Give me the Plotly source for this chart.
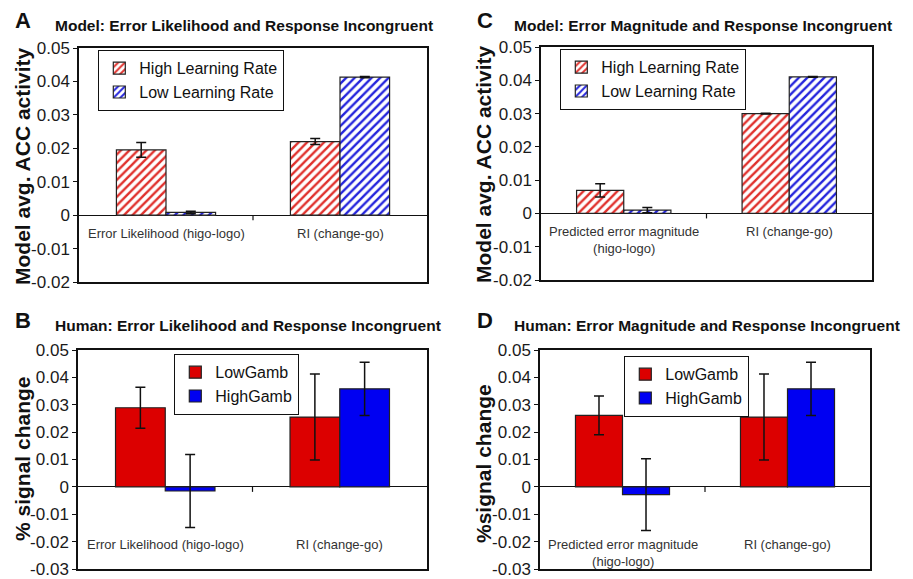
import plotly.graph_objects as go

# ---------------- data ----------------
cats_model_A = ["Error Likelihood (higo-logo)", "RI (change-go)"]
cats_model_C = ["Predicted error magnitude<br>(higo-logo)", "RI (change-go)"]
cats_human_B = ["Error Likelihood (higo-logo)", "RI (change-go)"]
cats_human_D = ["Predicted error magnitude<br>(higo-logo)", "RI (change-go)"]

model_names = ["High Learning Rate", "Low Learning Rate"]
human_names = ["LowGamb", "HighGamb"]

A_high = [0.0195, 0.0220]
A_high_err = [0.0022, 0.0009]
A_low = [0.0008, 0.0413]
A_low_err = [0.0004, 0.0002]

C_high = [0.0069, 0.0300]
C_high_err = [0.0020, 0.0001]
C_low = [0.0010, 0.0410]
C_low_err = [0.0008, 0.0001]

B_lowg = [0.0289, 0.0255]
B_lowg_err = [0.0075, 0.0157]
B_highg = [-0.0015, 0.0358]
B_highg_err = [0.0133, 0.0097]

D_lowg = [0.0261, 0.0255]
D_lowg_err = [0.0071, 0.0157]
D_highg = [-0.0028, 0.0358]
D_highg_err = [0.0131, 0.0097]

model_tickvals = [-0.02, -0.01, 0, 0.01, 0.02, 0.03, 0.04, 0.05]
model_ticktext = ["-0.02", "-0.01", "0", "0.01", "0.02", "0.03", "0.04", "0.05"]
human_tickvals = [-0.03, -0.02, -0.01, 0, 0.01, 0.02, 0.03, 0.04, 0.05]
human_ticktext = ["-0.03", "-0.02", "-0.01", "0", "0.01", "0.02", "0.03", "0.04", "0.05"]

titles = {
    "A": "Model: Error Likelihood and Response Incongruent",
    "C": "Model: Error Magnitude and Response Incongruent",
    "B": "Human: Error Likelihood and Response Incongruent",
    "D": "Human: Error Magnitude and Response Incongruent",
}
ytitles = {
    "A": "Model avg. ACC activity",
    "C": "Model avg. ACC activity",
    "B": "% signal change",
    "D": "%signal change",
}

# ---------------- styling ----------------
W, H = 913, 579
FONT = "Liberation Sans, Arial, Helvetica, sans-serif"
RED_H = "#e0302c"
BLUE_H = "#2424dc"
RED_S = "#dc0000"
BLUE_S = "#0000f2"


def px_x(p):
    return p / W


def px_y(p):
    return 1 - p / H


fig = go.Figure()

panels = [
    # key, axis suffix, cats, series, legend, xdom(px), ydom(px), hatched
    ("A", "", cats_model_A,
     [(model_names[0], A_high, A_high_err, RED_H), (model_names[1], A_low, A_low_err, BLUE_H)],
     "legend", (79, 427), (48, 282), True),
    ("C", "2", cats_model_C,
     [(model_names[0], C_high, C_high_err, RED_H), (model_names[1], C_low, C_low_err, BLUE_H)],
     "legend2", (541, 872), (47, 280), True),
    ("B", "3", cats_human_B,
     [(human_names[0], B_lowg, B_lowg_err, RED_S), (human_names[1], B_highg, B_highg_err, BLUE_S)],
     "legend3", (78, 427), (350, 569), False),
    ("D", "4", cats_human_D,
     [(human_names[0], D_lowg, D_lowg_err, RED_S), (human_names[1], D_highg, D_highg_err, BLUE_S)],
     "legend4", (540, 870), (350, 569), False),
]

# left, top (px), font size
legend_pos = {
    "legend": (98, 50, 16),
    "legend2": (560, 49, 16),
    "legend3": (174, 354, 16),
    "legend4": (624, 356, 16),
}

annotations = []
shapes = []

for key, sfx, cats, series, leg, xd, yd, hatched in panels:
    xa = "x" + sfx
    ya = "y" + sfx
    for name, vals, errs, col in series:
        if hatched:
            marker = dict(color="white",
                          pattern=dict(shape="/", fgcolor=col, bgcolor="white",
                                       fgopacity=1, size=6, solidity=0.4,
                                       fillmode="replace"),
                          line=dict(color="#222222", width=1.2))
        else:
            marker = dict(color=col, line=dict(color="#222222", width=1.2))
        fig.add_trace(go.Bar(
            x=cats, y=vals, name=name, marker=marker,
            error_y=dict(type="data", array=errs, visible=True,
                         color="#111111", thickness=1.5, width=5),
            xaxis=xa, yaxis=ya, legend=leg, showlegend=True,
        ))

    model = key in ("A", "C")
    tv = model_tickvals if model else human_tickvals
    tt = model_ticktext if model else human_ticktext
    yr = [-0.02, 0.05] if model else [-0.03, 0.05]

    fig.layout["xaxis" + sfx] = dict(
        domain=[px_x(xd[0]), px_x(xd[1])], anchor=ya, automargin=False,
        showticklabels=False, ticks="", showgrid=False,
        showline=True, linecolor="#111111", linewidth=1.5, mirror=True,
        type="category", range=[-0.5, 1.5], fixedrange=True,
    )
    fig.layout["yaxis" + sfx] = dict(
        domain=[px_y(yd[1]), px_y(yd[0])], anchor=xa, automargin=False,
        range=yr, tickvals=tv, ticktext=tt, ticklabeloverflow="allow",
        ticks="outside", ticklen=4, tickcolor="#111111", tickwidth=1,
        tickfont=dict(size=17, color="#1a1a1a", family=FONT),
        showgrid=False, zeroline=True, zerolinecolor="#111111", zerolinewidth=1,
        showline=True, linecolor="#111111", linewidth=1.5, mirror=True,
        fixedrange=True,
    )

    # small tick on zero line between categories
    pxper = (yd[1] - yd[0]) / (yr[1] - yr[0])
    shapes.append(dict(type="line", xref=xa, yref=ya, x0=0.5, x1=0.5,
                       y0=0, y1=-5 / pxper, line=dict(color="#111111", width=1.2)))

    # category labels inside the plot area below zero
    two_line = "<br>" in cats[0]
    if model:
        ylab1 = -(27 if two_line else 18) / pxper
    else:
        ylab1 = -(66 if two_line else 58) / pxper
    annotations.append(dict(x=cats[0], y=ylab1, xref=xa, yref=ya, text=cats[0],
                            showarrow=False, xanchor="center", yanchor="middle",
                            font=dict(size=13, color="#333333", family=FONT)))
    ylab2 = -(18 if model else 58) / pxper
    annotations.append(dict(x=cats[1], y=ylab2, xref=xa, yref=ya, text=cats[1],
                            showarrow=False, xanchor="center", yanchor="middle",
                            font=dict(size=13, color="#333333", family=FONT)))

    # panel titles
    lx = 13 if key in ("A", "B") else 475
    ty = 22 if key in ("A", "C") else 322
    annotations.append(dict(x=px_x(lx), y=px_y(ty - 2), xref="paper", yref="paper",
                            text="<b>" + key + "</b>", showarrow=False,
                            xanchor="left", yanchor="middle",
                            font=dict(size=22, color="#111111", family=FONT)))
    tx = 53 if key in ("A", "B") else 512
    annotations.append(dict(x=px_x(tx), y=px_y(ty + 3), xref="paper", yref="paper",
                            text="<b>" + titles[key] + "</b>", showarrow=False,
                            xanchor="left", yanchor="middle",
                            font=dict(size=15.5, color="#111111", family=FONT)))

    # y axis titles
    ytx = 22 if key in ("A", "B") else 483
    yty = {"A": 166, "C": 164, "B": 459, "D": 464}[key]
    annotations.append(dict(x=px_x(ytx), y=px_y(yty), xref="paper", yref="paper",
                            text="<b>" + ytitles[key] + "</b>", showarrow=False,
                            textangle=-90, xanchor="center", yanchor="middle",
                            font=dict(size=21, color="#111111", family=FONT)))

legends = {}
for lname, (lx, ly, fs) in legend_pos.items():
    legends[lname] = dict(
        x=px_x(lx), y=px_y(ly), xanchor="left", yanchor="top",
        xref="paper", yref="paper",
        bgcolor="white", bordercolor="#111111", borderwidth=1.3,
        font=dict(size=fs, color="#111111", family=FONT),
        itemwidth=30, tracegroupgap=0, traceorder="normal",
    )

fig.update_layout(
    width=W, height=H,
    margin=dict(l=0, r=0, t=0, b=0, autoexpand=False),
    paper_bgcolor="white", plot_bgcolor="white",
    barmode="group", bargap=0.43, bargroupgap=0,
    font=dict(family=FONT, color="#111111"),
    annotations=annotations, shapes=shapes,
    **legends,
)

fig.write_html(
    "out.html",
    config={"displayModeBar": False},
    post_script="document.body.style.margin='0';document.body.style.overflow='hidden';",
)
